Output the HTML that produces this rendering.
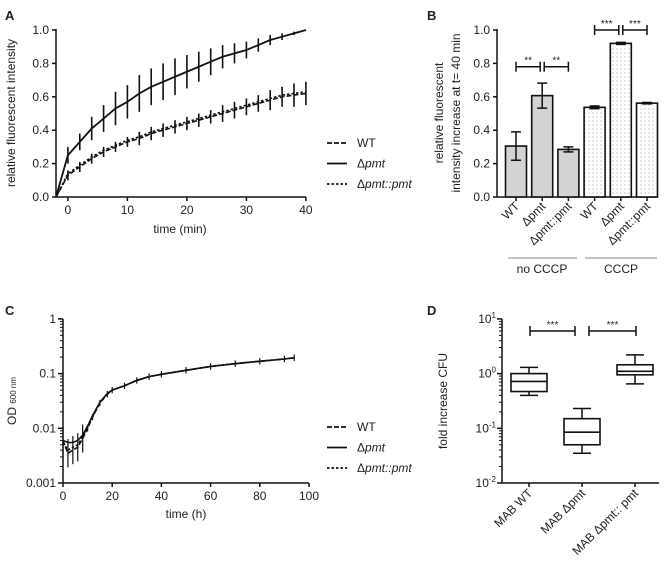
<!DOCTYPE html>
<html><head><meta charset="utf-8"><style>
body{margin:0;background:#fff}
svg{display:block;font-family:"Liberation Sans",Arial,sans-serif;fill:#222}
</style></head><body>
<svg id="s" width="667" height="568" viewBox="0 0 667 568"></svg>
<script>
// Panel A data
const aTimes=[-2,0,2,4,6,8,10,12,14,16,18,20,22,24,26,28,30,32,34,36,38,40];
const aPmt=[0,0.25,0.33,0.41,0.47,0.53,0.57,0.62,0.66,0.69,0.72,0.75,0.78,0.81,0.84,0.86,0.88,0.91,0.94,0.96,0.98,1.0];
const aPmtErr=[0,0.05,0.05,0.07,0.08,0.1,0.1,0.11,0.11,0.11,0.11,0.1,0.09,0.08,0.07,0.06,0.05,0.04,0.03,0.02,0.01,0];
const aWT=[0,0.13,0.18,0.23,0.27,0.3,0.33,0.35,0.38,0.4,0.42,0.44,0.46,0.48,0.5,0.52,0.54,0.56,0.58,0.6,0.61,0.62];
const aWTErr=[0,0.03,0.03,0.03,0.03,0.03,0.03,0.04,0.04,0.04,0.04,0.04,0.04,0.04,0.05,0.05,0.05,0.05,0.06,0.06,0.07,0.07];
const aComp=[0,0.14,0.19,0.24,0.28,0.31,0.34,0.36,0.39,0.41,0.43,0.45,0.47,0.49,0.51,0.53,0.55,0.57,0.59,0.61,0.62,0.63];
// Panel B data
const bCats=["WT","Δpmt","Δpmt::pmt","WT","Δpmt","Δpmt::pmt"];
const bVals=[0.305,0.607,0.285,0.537,0.92,0.562];
const bErr=[0.085,0.075,0.015,0.008,0.006,0.004];
// Panel C data
const cTimes=[0,2,4,6,8,10,12,15,18,20,25,30,35,40,50,60,70,80,90,94];
const cPmt=[0.006,0.0055,0.0055,0.006,0.0075,0.011,0.017,0.03,0.043,0.05,0.06,0.075,0.088,0.097,0.115,0.135,0.152,0.168,0.185,0.195];
const cWT=[0.006,0.0035,0.004,0.0045,0.0065,0.01,0.016,0.029,0.042,0.05,0.06,0.075,0.088,0.097,0.115,0.135,0.152,0.168,0.185,0.195];
const cComp=[0.0055,0.004,0.0045,0.005,0.007,0.0105,0.0165,0.03,0.043,0.05,0.06,0.075,0.088,0.097,0.115,0.135,0.152,0.168,0.185,0.195];
const cTicks=[0,20,40,60,80,100];
// Panel D data
const dCats=["MAB WT","MAB Δpmt","MAB Δpmt:: pmt"];
const dMin=[0.4,0.035,0.65],dQ1=[0.47,0.05,0.95],dMed=[0.72,0.085,1.1],dQ3=[1.0,0.15,1.45],dMax=[1.3,0.23,2.2];

const S=document.getElementById('s');
const NS='http://www.w3.org/2000/svg';
function el(t,a,name,p){const e=document.createElementNS(NS,t);for(const k in a)e.setAttribute(k,a[k]);


(p||S).appendChild(e);return e;}
function tx(x,y,s,name,o){o=o||{};const e=el('text',Object.assign({x:x,y:y,'font-size':o.fs||12,'text-anchor':o.a||'middle'},o.attr||{}),name);e.textContent=s;return e;}
function ln(x1,y1,x2,y2,name,w,d){return el('line',{x1,y1,x2,y2,stroke:'#111','stroke-width':w||1.5,'stroke-dasharray':d||'none'},name);}
function pl(pts,name,w,d){return el('polyline',{points:pts.map(p=>p.join(',')).join(' '),fill:'none',stroke:'#111','stroke-width':w||1.5,'stroke-dasharray':d||'none'},name);}

[['A',5,20],['B',427,20],['C',5,315],['D',427,315]].forEach(p=>tx(p[1],p[2],p[0],'panel-label-'+p[0].toLowerCase(),{a:'start',fs:13,attr:{'font-weight':'bold'}}));

// ---- Panel A
const ax=t=>56+(t+2)*5.95, ay=v=>197-v*167;
ln(56,29,56,197,'a-y-axis');ln(56,197,306,197,'a-x-axis');
[0,0.2,0.4,0.6,0.8,1.0].forEach(v=>{ln(52,ay(v),56,ay(v),'a-y-tick');tx(49,ay(v)+4,v.toFixed(1),'a-y-tick-label',{a:'end'});});
[0,10,20,30,40].forEach(v=>{ln(ax(v),197,ax(v),201,'a-x-tick');tx(ax(v),214,v,'a-x-tick-label');});
tx(180,233,'time (min)','a-x-title');
tx(15,113,'relative fluorescent intensity','a-y-title',{attr:{transform:'rotate(-90 15 113)'}});
aTimes.forEach((t,i)=>{ln(ax(t),ay(aPmt[i]+aPmtErr[i]),ax(t),ay(aPmt[i]-aPmtErr[i]),'a-pmt-errorbar',1.6);
ln(ax(t),ay(aWT[i]+aWTErr[i]),ax(t),ay(aWT[i]-aWTErr[i]),'a-wt-errorbar',1.6);});
pl(aTimes.map((t,i)=>[ax(t),ay(aPmt[i])]),'a-pmt-line',1.8);
pl(aTimes.map((t,i)=>[ax(t),ay(aWT[i])]),'a-wt-line',1.6,'5,2');
pl(aTimes.map((t,i)=>[ax(t),ay(aComp[i])]),'a-comp-line',1.6,'2.5,2');
function legend(y0,pref){[['WT','5,2',false],['Δpmt','none',true],['Δpmt::pmt','2.5,2',true]].forEach((l,i)=>{const y=y0+i*20.5;
ln(327,y,347,y,pref+'-legend-line',1.8,l[1]);const t=tx(357,y+4,'',pref+'-legend-label',{a:'start'});
if(l[2]){t.innerHTML='<tspan font-style="normal">Δ</tspan><tspan font-style="italic">'+l[0].slice(1)+'</tspan>';}else t.textContent=l[0];});}
legend(143,'a');

// ---- Panel B
const by=v=>197-v*167, bx=i=>516+i*26.2;
ln(497,29,497,197,'b-y-axis');ln(497,197,657,197,'b-x-axis');
[0,0.2,0.4,0.6,0.8,1.0].forEach(v=>{ln(493,by(v),497,by(v),'b-y-tick');tx(490,by(v)+4,v.toFixed(1),'b-y-tick-label',{a:'end'});});
tx(443,113,'relative fluorescent','b-y-title-line1',{attr:{transform:'rotate(-90 443 113)'}});
tx(460,113,'intensity increase at t= 40 min','b-y-title-line2',{attr:{transform:'rotate(-90 460 113)'}});
const defs=el('defs',{},'defs');
const pat=el('pattern',{id:'dots',width:4,height:4,patternUnits:'userSpaceOnUse'},'dot-pattern',defs);
el('rect',{width:4,height:4,fill:'#fff'},'dot-bg',pat);el('circle',{cx:1,cy:1,r:0.5,fill:'#777'},'dot',pat);
bVals.forEach((v,i)=>{const x=bx(i);
el('rect',{x:x-10.5,y:by(v),width:21,height:by(0)-by(v),fill:i<3?'#d3d3d3':'url(#dots)',stroke:'#111','stroke-width':1.6},'b-bar');
ln(x,by(v+bErr[i]),x,by(v-bErr[i]),'b-errorbar',1.5);ln(x-5,by(v+bErr[i]),x+5,by(v+bErr[i]),'b-errorcap',1.5);ln(x-5,by(v-bErr[i]),x+5,by(v-bErr[i]),'b-errorcap',1.5);
ln(x,197,x,201,'b-x-tick');
tx(x+4,207,bCats[i],'b-x-tick-label',{a:'end',attr:{transform:'rotate(-45 '+(x+4)+' 207)'}});});
function bracket(x1,x2,y,lab,name){ln(x1,y,x2,y,name,1.5);ln(x1,y-5,x1,y+5,name,1.5);ln(x2,y-5,x2,y+5,name,1.5);tx((x1+x2)/2,y-3,lab,name+'-label',{fs:10});}
bracket(bx(0),bx(1)-2,by(0.78),'**','b-sig-1');bracket(bx(1)+2,bx(2),by(0.78),'**','b-sig-2');
bracket(bx(3),bx(4)-2,by(1.0),'***','b-sig-3');bracket(bx(4)+2,bx(5),by(1.0),'***','b-sig-4');
el('line',{x1:508,y1:258,x2:577,y2:258,stroke:'#888','stroke-width':1},'b-group-line');
el('line',{x1:585,y1:258,x2:657,y2:258,stroke:'#888','stroke-width':1},'b-group-line');
tx(542,273,'no CCCP','b-group-label');tx(621,273,'CCCP','b-group-label');

// ---- Panel C
const cx=t=>63+t*2.46, cy=v=>483-(Math.log10(v)+3)*54.7;
ln(63,319,63,483,'c-y-axis');ln(63,483,309,483,'c-x-axis');
[[1,'1'],[0.1,'0.1'],[0.01,'0.01'],[0.001,'0.001']].forEach(t=>{ln(58,cy(t[0]),63,cy(t[0]),'c-y-tick');tx(56,cy(t[0])+4,t[1],'c-y-tick-label',{a:'end'});});
for(let d=-3;d<0;d++)for(let m=2;m<10;m++){const y=cy(m*Math.pow(10,d));ln(60,y,63,y,'c-y-minor-tick',1);}
cTicks.forEach(v=>{ln(cx(v),483,cx(v),487,'c-x-tick');tx(cx(v),500,v,'c-x-tick-label');});
tx(186,518,'time (h)','c-x-title');
const yt=el('text',{x:16,y:401,'font-size':12,'text-anchor':'middle',transform:'rotate(-90 16 401)'},'c-y-title');yt.innerHTML='OD <tspan font-size="8">600 nm</tspan>';
cTimes.forEach((t,i)=>{const e=i<5?0.45:0.08;ln(cx(t),cy(cWT[i]*(1+e*1.8)),cx(t),cy(cWT[i]/(1+e*1.8)),'c-errorbar',1.2);});
pl(cTimes.map((t,i)=>[cx(t),cy(cPmt[i])]),'c-pmt-line',1.6);
pl(cTimes.map((t,i)=>[cx(t),cy(cWT[i])]),'c-wt-line',1.6,'5,2');
pl(cTimes.map((t,i)=>[cx(t),cy(cComp[i])]),'c-comp-line',1.6,'2.5,2');
legend(427,'c');

// ---- Panel D
const dy=v=>483-(Math.log10(v)+2)*54.7, dx=i=>529+i*53;
ln(502,319,502,483,'d-y-axis');ln(502,483,659,483,'d-x-axis');
[[10,'1'],[1,'0'],[0.1,'-1'],[0.01,'-2']].forEach(t=>{ln(497,dy(t[0]),502,dy(t[0]),'d-y-tick');const e=tx(496,dy(t[0])+4,'','d-y-tick-label',{a:'end'});e.innerHTML='10<tspan dy="-5" font-size="8">'+t[1]+'</tspan>';});
for(let d=-2;d<1;d++)for(let m=2;m<10;m++){const y=dy(m*Math.pow(10,d));ln(499,y,502,y,'d-y-minor-tick',1);}
tx(447,401,'fold increase CFU','d-y-title',{attr:{transform:'rotate(-90 447 401)'}});
dCats.forEach((c,i)=>{const x=dx(i);
ln(x,dy(dMax[i]),x,dy(dQ3[i]),'d-whisker');ln(x,dy(dMin[i]),x,dy(dQ1[i]),'d-whisker');
ln(x-9,dy(dMax[i]),x+9,dy(dMax[i]),'d-whisker-cap');ln(x-9,dy(dMin[i]),x+9,dy(dMin[i]),'d-whisker-cap');
el('rect',{x:x-18,y:dy(dQ3[i]),width:36,height:dy(dQ1[i])-dy(dQ3[i]),fill:'#fff',stroke:'#111','stroke-width':1.6},'d-box');
ln(x-18,dy(dMed[i]),x+18,dy(dMed[i]),'d-median',1.6);
ln(x,483,x,487,'d-x-tick');
tx(x+4,494,c,'d-x-tick-label',{a:'end',attr:{transform:'rotate(-45 '+(x+4)+' 494)'}});});
bracket(530,575,dy(6),'***','d-sig-1');bracket(589,636,dy(6),'***','d-sig-2');
</script>
</body></html>
